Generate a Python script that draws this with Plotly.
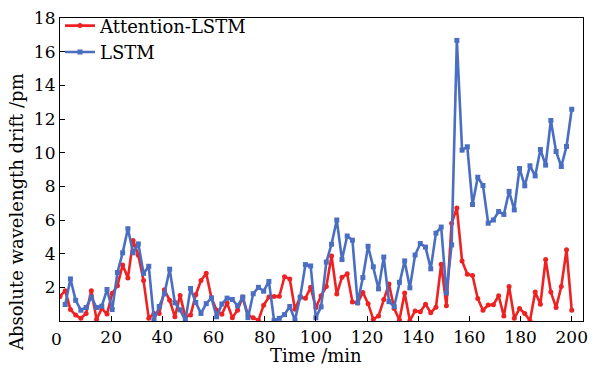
import plotly.graph_objects as go

# Sampling times (99 evenly spaced samples over 0-200 min)
N_SAMPLES = 99
time_min = [round(i * 200 / (N_SAMPLES - 1), 3) for i in range(N_SAMPLES)]

attention_lstm = [
    1.46, 1.8, 0.68, 0.35, 0.16, 0.45, 1.8, 0.1, 0.74, 0.41,
    1.65, 2.1, 3.33, 2.55, 4.78, 3.9, 2.4, 0.16, 0.45, 0.45,
    1.85, 1.23, 0.25, 1.52, 0.25, 0.35, 1.56, 2.4, 2.83, 1.38,
    0.64, 0.4, 1.07, 0.2, 0.64, 1.42, 0.35, 0.2, 0.04, 0.94,
    1.42, 1.46, 1.47, 2.63, 2.5, 0.7, 1.42, 1.35, 2.0, 0.8,
    1.5, 2.05, 3.86, 1.6, 2.6, 2.8, 1.13, 1.07, 1.7, 1.03,
    0.1, 0.3, 1.27, 2.2, 0.74, 0.06, 1.66, 0.02, 0.6, 0.55,
    1.0, 0.49, 0.82, 3.37, 0.9, 5.8, 6.72, 3.57, 2.78, 2.7,
    1.33, 0.64, 0.95, 0.97, 1.5, 0.29, 2.05, 0.16, 0.74, 0.45,
    0.02, 1.72, 1.0, 3.65, 1.72, 0.8, 2.05, 4.23, 0.64,
]

lstm = [
    None, 0.98, 2.5, 1.23, 0.64, 0.8, 1.42, 0.8, 0.88, 1.87,
    0.68, 2.88, 4.05, 5.48, 4.05, 4.58, 2.83, 3.25, 0.05, 0.86,
    1.62, 3.08, 1.08, 0.66, 0.02, 1.93, 1.1, 0.45, 1.03, 1.37,
    0.25, 1.01, 1.36, 1.28, 0.9, 1.42, 0.2, 1.62, 2.0, 1.77,
    2.35, 0.03, 0.16, 0.38, 0.86, 0.05, 1.42, 3.35, 3.27, 0.19,
    0.84, 3.5, 4.56, 6.0, 3.65, 5.05, 4.8, 1.08, 2.58, 4.44,
    3.22, 1.91, 3.8, 1.15, 0.86, 2.3, 3.57, 1.97, 3.92, 4.6,
    4.39, 3.1, 5.22, 5.58, 1.67, 4.52, 16.67, 10.15, 10.35, 6.92,
    8.54, 8.05, 5.81, 6.0, 6.5, 6.33, 7.7, 6.6, 9.06, 8.03,
    9.22, 8.62, 10.19, 9.26, 11.91, 10.07, 9.18, 10.37, 12.58,
]

x_ticks = [0, 20, 40, 60, 80, 100, 120, 140, 160, 180, 200]
y_ticks = [2, 4, 6, 8, 10, 12, 14, 16, 18]

RED = "#EE2222"
BLUE = "#4A6EC2"
FONT = "DejaVu Serif"

fig = go.Figure()
fig.add_trace(go.Scatter(
    x=time_min, y=attention_lstm, name="Attention-LSTM", mode="lines+markers",
    line=dict(color=RED, width=2.6), marker=dict(symbol="circle", size=5, color=RED),
))
fig.add_trace(go.Scatter(
    x=time_min, y=lstm, name="LSTM", mode="lines+markers",
    line=dict(color=BLUE, width=2.6), marker=dict(symbol="square", size=5, color=BLUE),
))

axis_common = dict(
    showgrid=False, zeroline=False, showline=True, linecolor="black", linewidth=1.2,
    mirror=True, ticks="inside", ticklen=5, tickwidth=1.2, tickcolor="black",
    tickfont=dict(family=FONT, size=17, color="black"),
)

fig.update_layout(
    width=595, height=370,
    margin=dict(l=60, r=7, t=13, b=49),
    paper_bgcolor="white", plot_bgcolor="white",
    font=dict(family=FONT, size=17, color="black"),
    xaxis=dict(range=[0, 204.4], tickvals=x_ticks,
               ticktext=[""] + [str(v) for v in x_ticks[1:]], **axis_common),
    yaxis=dict(range=[0, 18], tickvals=y_ticks, **axis_common),
    legend=dict(x=0.0, y=1.035, xanchor="left", yanchor="top",
                bgcolor="rgba(0,0,0,0)", font=dict(family=FONT, size=18),
                tracegroupgap=0, itemwidth=30),
    showlegend=True,
)

fig.add_annotation(text="0", xref="paper", yref="paper", x=-0.021, y=-0.06,
                   showarrow=False, font=dict(family=FONT, size=17), yanchor="middle")
fig.add_annotation(text="Time /min", xref="paper", yref="paper", x=0.49, y=-0.115,
                   showarrow=False, font=dict(family=FONT, size=18), yanchor="middle")
fig.add_annotation(text="Absolute wavelength drift /pm", xref="paper", yref="paper",
                   x=-0.082, y=0.36, textangle=-90, showarrow=False,
                   font=dict(family=FONT, size=18), xanchor="center", yanchor="middle")

fig.write_html("out.html", config={"displayModeBar": False},
               post_script="document.body.style.margin='0';")
